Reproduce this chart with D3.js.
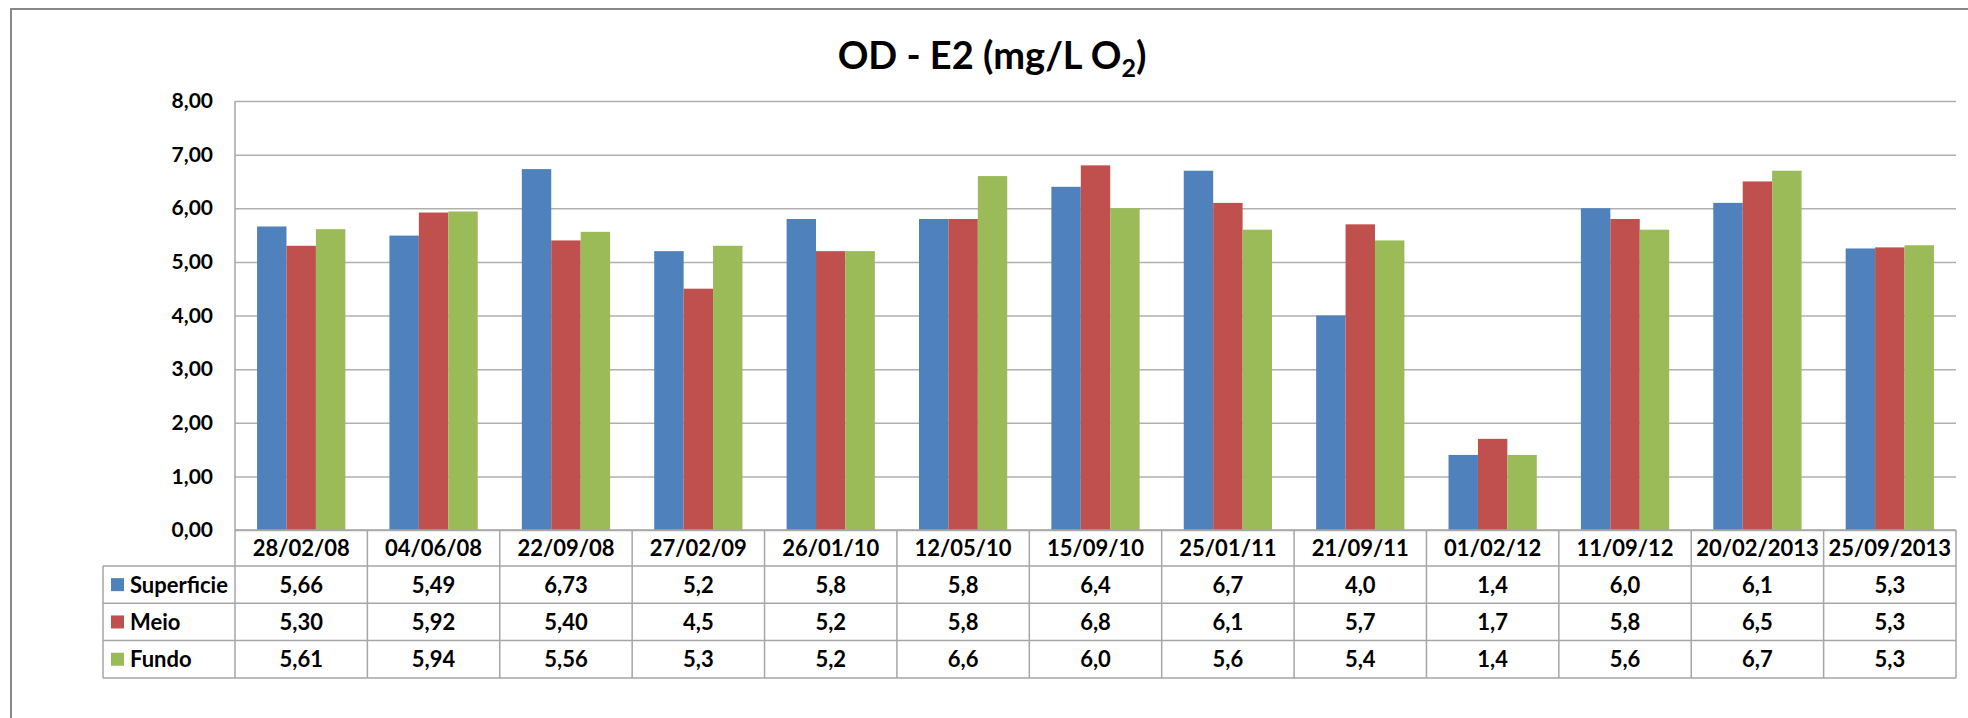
<!DOCTYPE html>
<html>
<head>
<meta charset="utf-8">
<script src="https://cdn.jsdelivr.net/npm/d3@7"></script>
<style>
  body { margin: 0; background: #fff; }
  text { font-family: Lato, "Open Sans", sans-serif; font-weight: bold; fill: #000; }
</style>
</head>
<body>
<div id="chart"></div>
<script>
// data
const dates = ["28/02/08", "04/06/08", "22/09/08", "27/02/09", "26/01/10", "12/05/10", "15/09/10",
  "25/01/11", "21/09/11", "01/02/12", "11/09/12", "20/02/2013", "25/09/2013"];
const superficie = [5.66, 5.49, 6.73, 5.2, 5.8, 5.8, 6.4, 6.7, 4.0, 1.4, 6.0, 6.1, 5.25];
const meio = [5.30, 5.92, 5.40, 4.5, 5.2, 5.8, 6.8, 6.1, 5.7, 1.7, 5.8, 6.5, 5.27];
const fundo = [5.61, 5.94, 5.56, 5.3, 5.2, 6.6, 6.0, 5.6, 5.4, 1.4, 5.6, 6.7, 5.31];
const decimals = [2, 2, 2, 1, 1, 1, 1, 1, 1, 1, 1, 1, 1]; // how many decimals the table shows per date
const seriesNames = ["Superficie", "Meio", "Fundo"];
const seriesColors = ["#4F81BD", "#C0504D", "#9BBB59"];
const yTicks = [0, 1, 2, 3, 4, 5, 6, 7, 8];

let width = 1968,
    height = 718,
    plot = ({ left: 235, right: 1956, top: 101, bottom: 530 }),
    headerH = 36,
    rowH = 37.3,
    legendLeft = 103;

const series = [superficie, meio, fundo];

const ptBR = d3.formatLocale({ decimal: ",", thousands: ".", grouping: [3], currency: ["R$", ""] });

const svg = d3.select("#chart")
  .append("svg")
  .attr("width", width)
  .attr("height", height);

svg.append("rect")
  .attr("width", width).attr("height", height)
  .attr("fill", "#fff");

// chart frame (runs off the right and bottom edge like the original)
svg.append("rect")
  .attr("x", 11).attr("y", 9)
  .attr("width", 1975).attr("height", 730)
  .attr("fill", "none")
  .attr("stroke", "#878787")
  .attr("stroke-width", 2);

// title
let title = svg.append("text")
  .attr("x", 992)
  .attr("y", 69)
  .attr("text-anchor", "middle")
  .attr("font-size", 38);
title.append("tspan").text("OD - E2 (mg/L O");
title.append("tspan").text("2").attr("font-size", 25).attr("dy", 8);
title.append("tspan").text(")").attr("dy", -8);

let y = d3.scaleLinear()
  .domain([0, 8])
  .range([plot.bottom, plot.top]);

// columns of the table and groups of bars share the same domain
let col = d3.scaleBand()
  .domain(dates)
  .range([plot.left, plot.right]);

let x0 = d3.scaleBand()
  .domain(dates)
  .range([plot.left, plot.right])
  .paddingInner(1 / 3)
  .paddingOuter(1 / 6);

let x1 = d3.scaleBand()
  .domain(seriesNames)
  .range([0, x0.bandwidth()]);

// gridlines + y labels
svg.append("g")
  .attr("transform", `translate(${plot.left},0)`)
  .call(d3.axisLeft(y)
    .tickValues(yTicks)
    .tickSize(-(plot.right - plot.left))
    .tickPadding(22)
    .tickFormat(ptBR.format(".2f")))
  .call(g => g.select(".domain").remove())
  .call(g => g.selectAll(".tick line").attr("stroke", "#b0b0b0").attr("stroke-width", 1.5))
  .call(g => g.selectAll(".tick text")
    .attr("font-size", 21)
    .attr("font-family", "Lato, sans-serif")
    .attr("fill", "#000"));

// vertical axis line
svg.append("line")
  .attr("x1", plot.left).attr("x2", plot.left)
  .attr("y1", plot.top).attr("y2", plot.bottom)
  .attr("stroke", "#a6a6a6").attr("stroke-width", 1.5);

// bars
series.forEach((vals, i) => {
  svg.append("g")
    .selectAll("rect")
    .data(vals)
    .join("rect")
    .attr("x", (d, j) => x0(dates[j]) + x1(seriesNames[i]))
    .attr("y", d => y(d))
    .attr("width", x1.bandwidth())
    .attr("height", d => y(0) - y(d))
    .attr("fill", seriesColors[i]);
});

// data table under the plot
let table = svg.append("g");
let tableBottom = plot.bottom + headerH + 3 * rowH;
let lineColor = "#a6a6a6";

// horizontal lines
table.append("line")
  .attr("x1", plot.left).attr("x2", plot.right)
  .attr("y1", plot.bottom).attr("y2", plot.bottom)
  .attr("stroke", lineColor).attr("stroke-width", 1.5);
for (let r = 0; r <= 3; r++) {
  let yy = plot.bottom + headerH + r * rowH;
  table.append("line")
    .attr("x1", legendLeft).attr("x2", plot.right)
    .attr("y1", yy).attr("y2", yy)
    .attr("stroke", lineColor).attr("stroke-width", 1.5);
}

// vertical lines
table.append("line")
  .attr("x1", legendLeft).attr("x2", legendLeft)
  .attr("y1", plot.bottom + headerH).attr("y2", tableBottom)
  .attr("stroke", lineColor).attr("stroke-width", 1.5);
table.selectAll(".vline")
  .data(dates.concat(["end"]))
  .join("line")
  .attr("class", "vline")
  .attr("x1", (d, j) => plot.left + j * col.step())
  .attr("x2", (d, j) => plot.left + j * col.step())
  .attr("y1", plot.bottom).attr("y2", tableBottom)
  .attr("stroke", lineColor).attr("stroke-width", 1.5);

// header: dates
table.selectAll(".date")
  .data(dates)
  .join("text")
  .attr("class", "date")
  .attr("x", d => col(d) + col.bandwidth() / 2)
  .attr("y", plot.bottom + headerH / 2)
  .attr("dy", "0.36em")
  .attr("text-anchor", "middle")
  .attr("font-size", 22)
  .text(d => d);

// rows: legend key + values
series.forEach((vals, i) => {
  let cy = plot.bottom + headerH + i * rowH + rowH / 2;

  table.append("rect")
    .attr("x", 111).attr("y", cy - 6.5)
    .attr("width", 13).attr("height", 13)
    .attr("fill", seriesColors[i]);

  table.append("text")
    .attr("x", 130)
    .attr("y", cy)
    .attr("dy", "0.36em")
    .attr("font-size", 22)
    .text(seriesNames[i]);

  table.append("g")
    .selectAll("text")
    .data(vals)
    .join("text")
    .attr("x", (d, j) => col(dates[j]) + col.bandwidth() / 2)
    .attr("y", cy)
    .attr("dy", "0.36em")
    .attr("text-anchor", "middle")
    .attr("font-size", 22)
    .text((d, j) => ptBR.format(`.${decimals[j]}f`)(d));
});
</script>
</body>
</html>
